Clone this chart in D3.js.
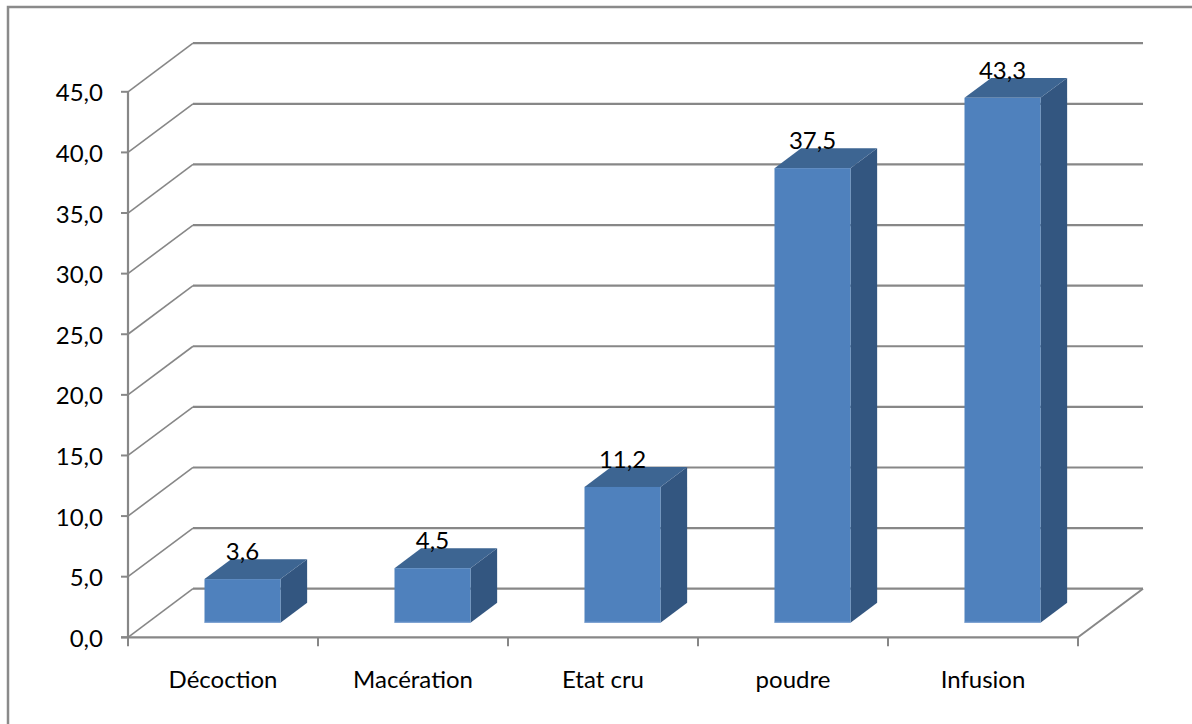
<!DOCTYPE html>
<html>
<head>
<meta charset="utf-8">
<script src="https://cdn.jsdelivr.net/npm/d3@7"></script>
<style>
  html, body { margin: 0; padding: 0; background: #fff; overflow: hidden; }
  svg { display: block; }
  text { font-family: Lato, "Open Sans", sans-serif; fill: #000; }
</style>
</head>
<body>
<svg id="chart" width="1192" height="724"></svg>
<script>
const categories = ["Décoction", "Macération", "Etat cru", "poudre", "Infusion"];
const values = [3.6, 4.5, 11.2, 37.5, 43.3];
const yTicks = [0, 5, 10, 15, 20, 25, 30, 35, 40, 45];
const valueLabels = ["3,6", "4,5", "11,2", "37,5", "43,3"];

const svg = d3.select("#chart");
const W = 1192, H = 724;

// frame
svg.append("rect")
  .attr("x", 8).attr("y", 7).attr("width", W + 20).attr("height", H + 20)
  .attr("fill", "#fff").attr("stroke", "#8a8a8a").attr("stroke-width", 2.5);

const x0 = 128, x1 = 1078;
const x = d3.scaleBand().domain(categories).range([x0, x1])
  .paddingInner(0.6).paddingOuter(0.3);
const y = d3.scaleLinear().domain([0, 45]).range([637.3, 91.8]);
const depthX = 65, depthY = -48.6;       // full floor depth offset
const dFront = 0.30, dBack = 0.71;         // bar depth position within floor

const grid = "#878787";
const fmt = v => d3.format(".1f")(v).replace(".", ",");
const FS = 24;

// side wall diagonals + back wall gridlines
const g = svg.append("g");
yTicks.forEach(t => {
  const yy = y(t);
  g.append("line")
    .attr("x1", x0).attr("y1", yy)
    .attr("x2", x0 + depthX).attr("y2", yy + depthY)
    .attr("stroke", grid).attr("stroke-width", 1.6);
  g.append("line")
    .attr("x1", x0 + depthX).attr("y1", yy + depthY)
    .attr("x2", x1 + depthX).attr("y2", yy + depthY)
    .attr("stroke", grid).attr("stroke-width", 2.2);
});

// floor right edge and front edge
g.append("line")
  .attr("x1", x1).attr("y1", y(0))
  .attr("x2", x1 + depthX).attr("y2", y(0) + depthY)
  .attr("stroke", grid).attr("stroke-width", 2);
g.append("line")
  .attr("x1", x0 - 7).attr("y1", y(0))
  .attr("x2", x1).attr("y2", y(0))
  .attr("stroke", grid).attr("stroke-width", 2.2);

// y axis
g.append("line")
  .attr("x1", x0).attr("y1", y(45))
  .attr("x2", x0).attr("y2", y(0))
  .attr("stroke", grid).attr("stroke-width", 2.2);
yTicks.forEach(t => {
  g.append("line")
    .attr("x1", x0 - 7).attr("y1", y(t))
    .attr("x2", x0).attr("y2", y(t))
    .attr("stroke", grid).attr("stroke-width", 2);
  svg.append("text")
    .attr("x", 103).attr("y", y(t)).attr("dy", "0.4em")
    .attr("text-anchor", "end")
    .attr("font-size", FS)
    .text(fmt(t));
});

// x ticks at category boundaries
const step = x.step();
d3.range(categories.length + 1).forEach(i => {
  const xx = x0 + i * step;
  g.append("line")
    .attr("x1", xx).attr("y1", y(0))
    .attr("x2", xx).attr("y2", y(0) + 9)
    .attr("stroke", grid).attr("stroke-width", 2);
});

// bars
const bars = svg.append("g");
categories.forEach((c, i) => {
  const v = values[i];
  const fx = x(c) + dFront * depthX;
  const fyOff = dFront * depthY;
  const bw = x.bandwidth();
  const ddx = (dBack - dFront) * depthX;
  const ddy = (dBack - dFront) * depthY;
  const top = y(v) + fyOff, bot = y(0) + fyOff;
  // side
  bars.append("path")
    .attr("d", `M${fx + bw},${top} L${fx + bw + ddx},${top + ddy} L${fx + bw + ddx},${bot + ddy} L${fx + bw},${bot} Z`)
    .attr("fill", "#335680");
  // top
  bars.append("path")
    .attr("d", `M${fx},${top} L${fx + ddx},${top + ddy} L${fx + bw + ddx},${top + ddy} L${fx + bw},${top} Z`)
    .attr("fill", "#3d6592");
  // front
  bars.append("rect")
    .attr("x", fx).attr("y", top).attr("width", bw).attr("height", bot - top)
    .attr("fill", "#4f81bd");
  bars.append("line")
    .attr("x1", fx).attr("y1", bot - 0.5).attr("x2", fx + bw).attr("y2", bot - 0.5)
    .attr("stroke", "#7ea2d3").attr("stroke-width", 1);
  // value label
  svg.append("text")
    .attr("x", fx + bw / 2).attr("y", top + ddy + 1)
    .attr("text-anchor", "middle")
    .attr("font-size", FS)
    .text(valueLabels[i]);
  // category label
  svg.append("text")
    .attr("x", x0 + (i + 0.5) * step).attr("y", 688)
    .attr("text-anchor", "middle")
    .attr("font-size", FS)
    .text(c);
});
</script>
</body>
</html>
